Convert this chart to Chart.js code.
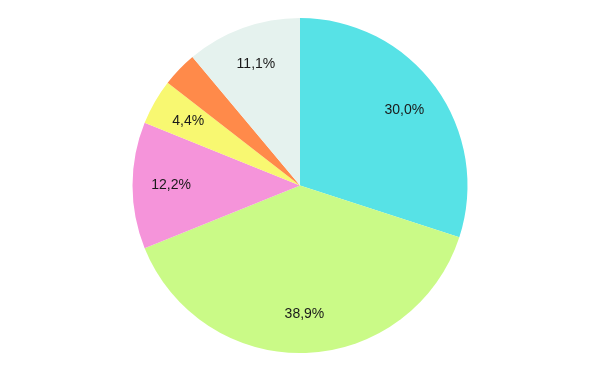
<!DOCTYPE html>
<html>
<head>
<meta charset="utf-8">
<script src="https://cdn.jsdelivr.net/npm/chart.js@4"></script>
<style>
html,body{margin:0;padding:0;background:#fff;}
#wrap{width:600px;height:371px;}
</style>
</head>
<body>
<div id="wrap"><canvas id="c" width="600" height="371"></canvas></div>
<script>
const categories = ["A", "B", "C", "D", "E", "F"];
const values = [30.0, 38.9, 12.2, 4.4, 3.4, 11.1];
const valueLabels = ["30,0%", "38,9%", "12,2%", "4,4%", "", "11,1%"];
const colors = ["#57E2E6", "#CAFA87", "#F594DA", "#F8F871", "#FF8A4A", "#E5F2EE"];

const labelPlugin = {
  id: 'sliceLabels',
  afterDatasetsDraw(chart) {
    const ctx = chart.ctx;
    const meta = chart.getDatasetMeta(0);
    ctx.save();
    ctx.font = '14px "Liberation Sans", Arial, sans-serif';
    ctx.fillStyle = '#1a1a1a';
    ctx.textAlign = 'center';
    ctx.textBaseline = 'middle';
    meta.data.forEach((arc, i) => {
      const t = valueLabels[i];
      if (!t) return;
      const p = arc.getProps(['x','y','startAngle','endAngle','outerRadius'], true);
      const a = (p.startAngle + p.endAngle) / 2;
      const r = p.outerRadius * 0.77;
      ctx.fillText(t, p.x + Math.cos(a) * r, p.y + Math.sin(a) * r);
    });
    ctx.restore();
  }
};

new Chart(document.getElementById('c'), {
  type: 'pie',
  data: {
    labels: categories,
    datasets: [{ data: values, backgroundColor: colors, borderWidth: 0 }]
  },
  options: {
    responsive: false,
    animation: false,
    layout: { padding: { top: 18, bottom: 18 } },
    plugins: { legend: { display: false }, tooltip: { enabled: false } }
  },
  plugins: [labelPlugin]
});
</script>
</body>
</html>
